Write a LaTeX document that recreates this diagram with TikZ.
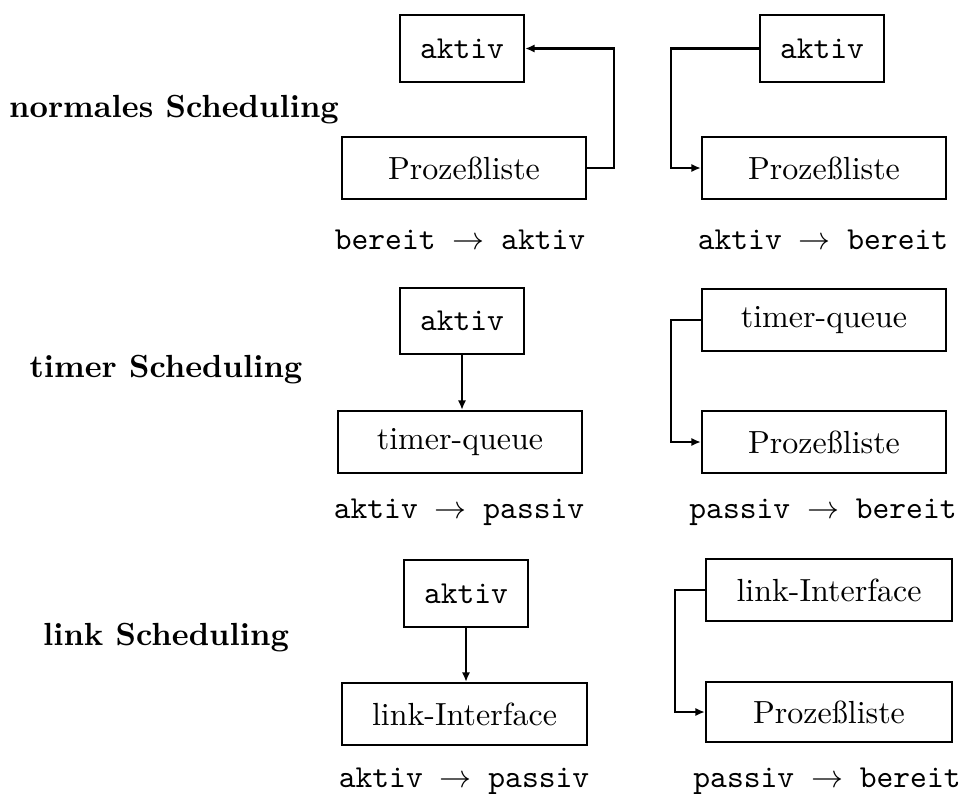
\documentclass[tikz,border=0pt]{standalone}
\usepackage{fontspec}
\usetikzlibrary{arrows.meta}
\newcommand\pxu{0.3125pt}
\begin{document}
\begin{tikzpicture}[
  x=0.3125pt, y=-0.3125pt,
  box/.style={draw, line width=0.7pt, inner sep=0pt, anchor=center},
  small/.style={box, minimum width={124*\pxu}, minimum height={67*\pxu}},
  wide/.style={box, minimum width={244*\pxu}, minimum height={62*\pxu}},
  arr/.style={line width=0.7pt, -{Latex[length=3pt,width=2.6pt]}},
  head/.style={font=\bfseries, anchor=base},
  trans/.style={font=\ttfamily, anchor=base}
]
\useasboundingbox (0,0) rectangle (962,793);

% --- normales Scheduling ---
\node[head] (h1) at (174,117) {normales Scheduling};
\node[small] (a1) at (462,48.5) {\texttt{aktiv}};
\node[wide] (p1) at (464,168) {Prozeßliste};
\draw[arr] (p1.east) -- ++(27,0) |- (a1.east);
\node[trans] (t1) at (460,249) {bereit $\rightarrow$ aktiv};

\node[small] (a2) at (822,48.5) {\texttt{aktiv}};
\node[wide] (p2) at (824,168) {Prozeßliste};
\draw[arr] (a2.west) -- ++(-88,0) |- (p2.west);
\node[trans] (t2) at (823,249) {aktiv $\rightarrow$ bereit};

% --- timer Scheduling ---
\node[head] (h2) at (166,377) {timer Scheduling};
\node[small, line width=0.85pt, minimum height={66*\pxu}] (a3) at (462,321) {\texttt{aktiv}};
\node[wide] (q3) at (460,442) {timer-queue};
\draw[arr] (a3.south) -- (a3.south |- q3.north);
\node[trans] (t3) at (459,518) {aktiv $\rightarrow$ passiv};

\node[wide] (q4) at (824,320) {timer-queue};
\node[wide] (p4) at (824,442) {Prozeßliste};
\draw[arr] (q4.west) -- ++(-30,0) |- (p4.west);
\node[trans] (t4) at (823,518) {passiv $\rightarrow$ bereit};

% --- link Scheduling ---
\node[head] (h3) at (166,645) {link Scheduling};
\node[small] (a5) at (466,593.5) {\texttt{aktiv}};
\node[wide, minimum width={245*\pxu}] (l5) at (464.5,714) {link-Interface};
\draw[arr] (a5.south) -- (a5.south |- l5.north);
\node[trans] (t5) at (464,787) {aktiv $\rightarrow$ passiv};

\node[wide, minimum width={246*\pxu}] (l6) at (829,590) {link-Interface};
\node[wide, minimum width={246*\pxu}, minimum height={60*\pxu}] (p6) at (829,712) {Prozeßliste};
\draw[arr] (l6.west) -- ++(-30,0) |- (p6.west);
\node[trans] (t6) at (827,787) {passiv $\rightarrow$ bereit};
\end{tikzpicture}
\end{document}
